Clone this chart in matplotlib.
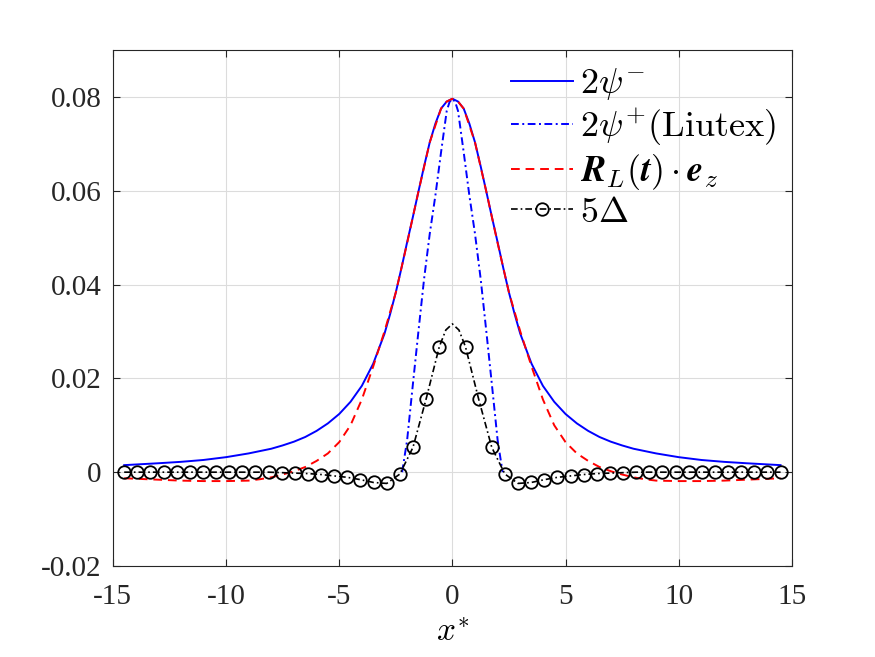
import numpy as np
import matplotlib.pyplot as plt

plt.rcParams['font.family'] = ['Liberation Serif', 'DejaVu Serif']
plt.rcParams['mathtext.fontset'] = 'cm'
plt.rcParams['axes.unicode_minus'] = False

# 2psi^- (solid blue)
psi_minus_x = [-14.5, -13, -12, -11, -10, -9, -8, -7.5, -7, -6.5, -6, -5.5, -5, -4.5, -4,
               -3.5, -3, -2.75, -2.5, -2.25, -2, -1.75, -1.5, -1.25, -1, -0.75, -0.5, -0.25,
               0, 0.25, 0.5, 0.75, 1, 1.25, 1.5, 1.75, 2, 2.25, 2.5, 2.75, 3, 3.5, 4, 4.5,
               5, 5.5, 6, 6.5, 7, 7.5, 8, 9, 10, 11, 12, 13, 14.5]
psi_minus_y = [0.0015, 0.0019, 0.0022, 0.0026, 0.0032, 0.0040, 0.0050, 0.0057, 0.0065,
               0.0075, 0.0088, 0.0104, 0.0124, 0.0150, 0.0184, 0.0231, 0.0295, 0.0337,
               0.0383, 0.0435, 0.0490, 0.0543, 0.0598, 0.0652, 0.0703, 0.0743, 0.0775,
               0.0790, 0.0796, 0.0790, 0.0775, 0.0743, 0.0703, 0.0652, 0.0598, 0.0543,
               0.0490, 0.0435, 0.0383, 0.0337, 0.0295, 0.0231, 0.0184, 0.0150, 0.0124,
               0.0104, 0.0088, 0.0075, 0.0065, 0.0057, 0.0050, 0.0040, 0.0032, 0.0026,
               0.0022, 0.0019, 0.0015]

# 2psi^+ (Liutex), blue dash-dot
liutex_x = [-2.22, -2.0, -1.75, -1.5, -1.25, -1.0, -0.75, -0.5, -0.25, -0.125, 0,
            0.125, 0.25, 0.5, 0.75, 1.0, 1.25, 1.5, 1.75, 2.0, 2.22]
liutex_y = [0.0, 0.0068, 0.0185, 0.0300, 0.0412, 0.0508, 0.0590, 0.0682, 0.0770, 0.0789,
            0.0796, 0.0789, 0.0770, 0.0682, 0.0590, 0.0508, 0.0412, 0.0300, 0.0185, 0.0068,
            0.0]

# R_L(t) . e_z, red dashed
rl_x = [-14.5, -13, -12, -11, -10, -9, -8.5, -8, -7.5, -7, -6.5, -6, -5.5, -5, -4.5, -4,
        -3.5, -3, -2.5, -2, -1.5, -1, -0.5, -0.25, 0,
        0.25, 0.5, 1, 1.5, 2, 2.5, 3, 3.5, 4, 4.5, 5, 5.5, 6, 6.5, 7, 7.5, 8, 8.5, 9,
        10, 11, 12, 13, 14.5]
rl_y = [-0.0013, -0.0016, -0.0018, -0.0019, -0.0019, -0.0018, -0.0015, -0.0011, -0.0005,
        0.0002, 0.0011, 0.0024, 0.0040, 0.0064, 0.0100, 0.0155, 0.0225, 0.0300, 0.0383,
        0.0488, 0.0598, 0.0703, 0.0775, 0.0790, 0.0796,
        0.0790, 0.0775, 0.0703, 0.0598, 0.0488, 0.0383, 0.0300, 0.0225, 0.0155, 0.0100,
        0.0064, 0.0040, 0.0024, 0.0011, 0.0002, -0.0005, -0.0011, -0.0015, -0.0018,
        -0.0019, -0.0019, -0.0018, -0.0016, -0.0013]

# 5*Delta, black dash-dot with circles
delta_x = [-14.5, -13.92, -13.34, -12.76, -12.18, -11.6, -11.02, -10.44, -9.86, -9.28,
           -8.7, -8.12, -7.54, -6.96, -6.38, -5.8, -5.22, -4.64, -4.06, -3.48, -2.9,
           -2.32, -1.74, -1.16, -0.58, -0.29, 0, 0.29,
           0.58, 1.16, 1.74, 2.32, 2.9, 3.48, 4.06, 4.64, 5.22, 5.8, 6.38, 6.96, 7.54,
           8.12, 8.7, 9.28, 9.86, 10.44, 11.02, 11.6, 12.18, 12.76, 13.34, 13.92, 14.5]
delta_y = [0.0, 0.0, 0.0, 0.0, 0.0, 0.0, 0.0, 0.0, 0.0, 0.0,
           0.0, 0.0, -0.0001, -0.0002, -0.0003, -0.0005, -0.0008, -0.0011, -0.0016, -0.0022,
           -0.0024, -0.0004, 0.0053, 0.0156, 0.0267, 0.0303, 0.0316, 0.0303,
           0.0267, 0.0156, 0.0053, -0.0004, -0.0024, -0.0022, -0.0016, -0.0011, -0.0008,
           -0.0005, -0.0003, -0.0002, -0.0001, 0.0, 0.0, 0.0, 0.0, 0.0, 0.0, 0.0, 0.0,
           0.0, 0.0, 0.0, 0.0]

fig = plt.figure(figsize=(8.75, 6.57), dpi=100)
ax = fig.add_axes([0.129, 0.1385, 0.776, 0.7855])

ax.plot(psi_minus_x, psi_minus_y, color='#0000ff', linewidth=1.4, label=r'$2\psi^{-}$')
ax.plot(liutex_x, liutex_y, color='#0000ff', linewidth=1.4, dashes=(4, 1.8, 1, 1.8),
        label=r'$2\psi^{+}(\mathrm{Liutex})$')
ax.plot(rl_x, rl_y, color='#ff0000', linewidth=1.4, dashes=(4.5, 3),
        label=r'$\mathbfit{R}_L(\mathbfit{t})\cdot\mathbfit{e}_z$')
mark = list(np.abs(np.array(delta_x)) > 0.3)
ax.plot(delta_x, delta_y, color='black', linewidth=1.2, dashes=(4, 1.8, 1, 1.8),
        marker='o', markersize=9, markerfacecolor='none', markeredgewidth=1.3,
        markevery=mark, label=r'$5\Delta$')

ax.set_xlim(-15, 15)
ax.set_ylim(-0.02, 0.09)
ax.set_xticks(np.arange(-15, 16, 5))
ax.set_yticks([-0.02, 0, 0.02, 0.04, 0.06, 0.08])
ax.set_yticklabels(['-0.02', '0', '0.02', '0.04', '0.06', '0.08'])
ax.set_xticklabels(['-15', '-10', '-5', '0', '5', '10', '15'])

ax.grid(True, color='#dcdcdc', linewidth=0.8)
ax.set_axisbelow(True)
for s in ax.spines.values():
    s.set_color('#262626')
    s.set_linewidth(0.8)
ax.tick_params(direction='in', length=5, width=0.8, colors='#262626',
               top=True, right=True, labelsize=21, pad=8)
ax.tick_params(axis='x', pad=13)

ax.set_xlabel(r'$x^{*}$', fontsize=24, labelpad=6)

ax.legend(loc='upper right', frameon=False, fontsize=26, handlelength=1.7,
          handletextpad=0.2, labelspacing=0.12, borderaxespad=0.05)

fig.savefig('out.png', dpi=100)
